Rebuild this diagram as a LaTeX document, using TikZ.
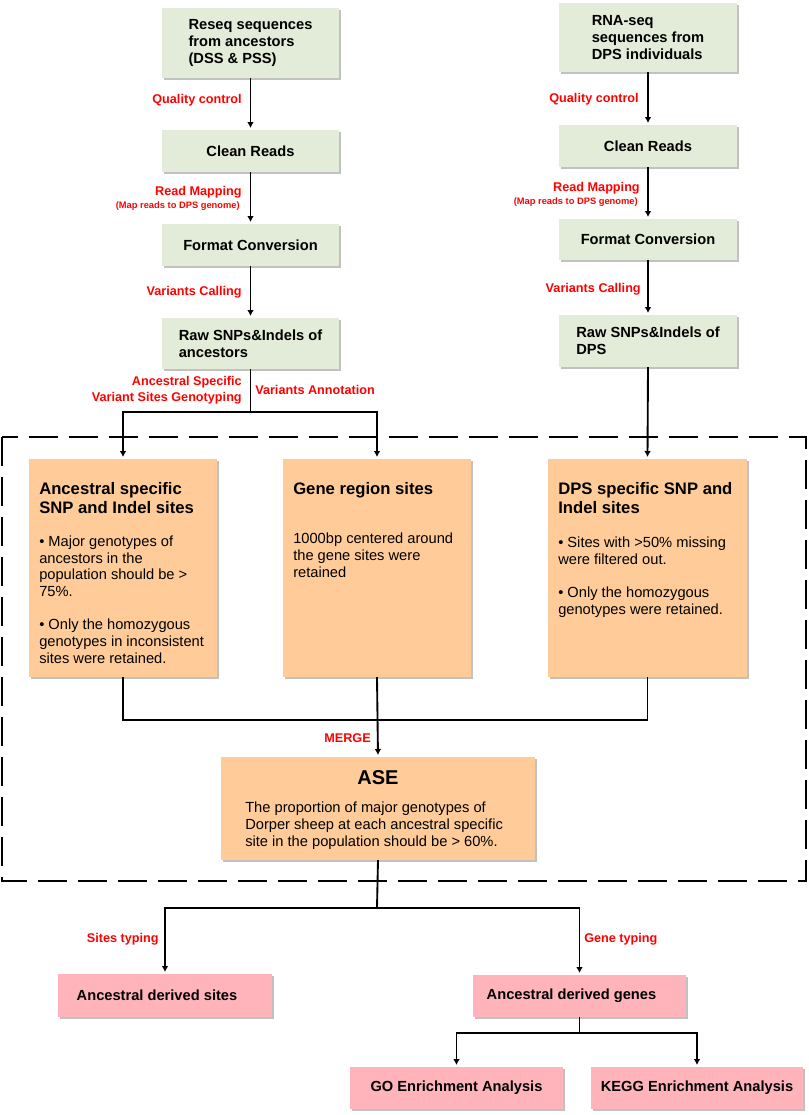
\documentclass[tikz,border=0pt]{standalone}
\usepackage{fontspec}
\setmainfont{Liberation Sans}
\usetikzlibrary{arrows.meta,shadows}
\definecolor{boxgreen}{RGB}{227,236,216}
\definecolor{boxorange}{RGB}{255,204,153}
\definecolor{boxpink}{RGB}{255,180,188}
\definecolor{labelred}{RGB}{255,0,0}
\begin{document}
\begin{tikzpicture}[x=0.75pt,y=-0.75pt,
  box/.style={rectangle, inner sep=0pt, outer sep=0pt,
    drop shadow={shadow xshift=1.5pt,shadow yshift=-1.5pt,fill=black!30,opacity=0.8}},
  greenbox/.style={box, fill=boxgreen, font=\fontsize{11}{12.5}\selectfont\bfseries, align=left, minimum width=132.75pt},
  orangebox/.style={box, fill=boxorange, minimum height=163.5pt},
  pinkbox/.style={box, fill=boxpink, font=\fontsize{11}{12.5}\selectfont\bfseries, minimum height=31.5pt},
  otitle/.style={inner sep=0pt, anchor=base west, align=left, font=\fontsize{12.5}{14.25}\selectfont\bfseries},
  obody/.style={inner sep=0pt, anchor=base west, align=left, font=\fontsize{11}{12.5}\selectfont},
  lab/.style={inner sep=0pt, text=labelred, font=\fontsize{9.5}{12}\selectfont\bfseries},
  smalllab/.style={inner sep=0pt, text=labelred, font=\fontsize{7}{8}\selectfont\bfseries},
  arr/.style={-{Latex[length=4.5pt,width=5pt]}, line width=1.4pt, shorten >=1.5pt},
  conn/.style={line width=1.4pt},
  frame/.style={line width=1.5pt, dash pattern=on 22pt off 8pt}
]
\useasboundingbox (0,0) rectangle (809,1115);

% ---------- left column ----------
\node[greenbox, minimum height=52.5pt] (G1) at (250.5,43) {Reseq sequences\\from ancestors\\(DSS \& PSS)};
\node[greenbox, minimum height=31.5pt] (G2) at (250.5,151) {Clean Reads};
\node[greenbox, minimum height=31.5pt] (G3) at (250.5,245) {Format Conversion};
\node[greenbox, minimum height=38.25pt] (G4) at (250.5,343.5) {Raw SNPs\&Indels of\\ancestors};

% ---------- right column ----------
\node[greenbox, minimum width=133.5pt, minimum height=51.75pt] (R1) at (648,37.5) {RNA-seq\\sequences from\\DPS individuals};
\node[greenbox, minimum width=133.5pt, minimum height=31.5pt] (R2) at (648,146) {Clean Reads};
\node[greenbox, minimum width=133.5pt, minimum height=30.75pt] (R3) at (648,239.5) {Format Conversion};
\node[greenbox, minimum width=133.5pt, minimum height=39pt] (R4) at (648,341) {Raw SNPs\&Indels of\\DPS};

% ---------- dashed frame ----------
\draw[frame] (2,437) rectangle (806,881);

% ---------- orange boxes ----------
\node[orangebox, minimum width=141pt] (A) at (123,568) {};
\node[orangebox, minimum width=141pt] (B) at (377,568) {};
\node[orangebox, minimum width=149.25pt] (C) at (647.5,568) {};
\node[box, fill=boxorange, minimum width=235.5pt, minimum height=77.25pt] (ASE) at (378,808.5) {};

% (base anchor of a multi-line node = baseline of its last line)
\node[otitle] (tA) at (39,513) {Ancestral specific\\SNP and Indel sites};
\node[obody] (bA) at (39,663) {• Major genotypes of\\ancestors in the\\population should be >\\75\%.\\[12.3pt]• Only the homozygous\\genotypes in inconsistent\\sites were retained.};
\node[otitle] (tB) at (293,494) {Gene region sites};
\node[obody] (bB) at (293,577) {1000bp centered around\\the gene sites were\\retained};
\node[otitle] (tC) at (558,513) {DPS specific SNP and\\Indel sites};
\node[obody] (bC) at (558,614) {• Sites with >50\% missing\\were filtered out.\\[12.3pt]• Only the homozygous\\genotypes were retained.};
\node[inner sep=0pt, anchor=base, font=\fontsize{15}{17}\selectfont\bfseries] (tASE) at (378,784) {ASE};
\node[obody] (bASE) at (245,846) {The proportion of major genotypes of\\Dorper sheep at each ancestral specific\\site in the population should be > 60\%.};

% ---------- pink boxes ----------
\node[pinkbox, minimum width=160.5pt, minimum height=32.25pt] (S) at (165,995.5) {Ancestral derived sites\hspace*{12pt}};
\node[pinkbox, minimum width=159.75pt] (Gn) at (579.5,996) {Ancestral derived genes\hspace*{12pt}};
\node[pinkbox, minimum width=159.75pt] (GO) at (456.5,1088) {GO Enrichment Analysis};
\node[pinkbox, minimum width=159pt] (KG) at (697,1088) {KEGG Enrichment Analysis};

% ---------- junctions ----------
\coordinate (j1) at (250.5,412);
\coordinate (j2) at (377,720);
\coordinate (j3) at (377,908);
\coordinate (j4) at (579.5,1033);

% ---------- connectors ----------
\draw[arr] (G1) -- (G2);
\draw[arr] (G2) -- (G3);
\draw[arr] (G3) -- (G4);
\draw[conn] (G4.south) -- (j1);
\draw[arr] (j1) -| (A.north);
\draw[arr] (j1) -| (B.north);

\draw[arr] (R1) -- (R2);
\draw[arr] (R2) -- (R3);
\draw[arr] (R3) -- (R4);
\draw[arr] (R4.south) -- (C.north);

\draw[conn] (A.south) -- (A.south |- j2) -- (C.south |- j2) -- (C.south);
\draw[arr] (B.south) -- (ASE.north);

\draw[conn] (ASE.south) -- (j3);
\draw[arr] (j3) -| (S.north);
\draw[arr] (j3) -| (Gn.north);

\draw[conn] (Gn.south) -- (j4);
\draw[arr] (j4) -| (GO.north);
\draw[arr] (j4) -| (KG.north);

% ---------- red labels ----------
\node[lab, anchor=east] (lq1) at (242,100) {Quality control};
\node[lab, anchor=east] (lr1) at (242,192) {Read Mapping};
\node[smalllab, anchor=east] (lm1) at (240,206) {(Map reads to DPS genome)};
\node[lab, anchor=east] (lv1) at (242,292) {Variants Calling};
\node[lab, anchor=east, align=right] (la1) at (242,390) {Ancestral Specific\\Variant Sites Genotyping};
\node[lab, anchor=west] (lan) at (255,390) {Variants Annotation};

\node[lab, anchor=east] (lq2) at (639,99) {Quality control};
\node[lab, anchor=east] (lr2) at (640,188) {Read Mapping};
\node[smalllab, anchor=east] (lm2) at (638,202) {(Map reads to DPS genome)};
\node[lab, anchor=east] (lv2) at (641,289) {Variants Calling};

\node[lab, anchor=east] (lmerge) at (371,738) {MERGE};
\node[lab, anchor=east] (lsites) at (159,939) {Sites typing};
\node[lab, anchor=west] (lgene) at (584,939) {Gene typing};
\end{tikzpicture}
\end{document}
